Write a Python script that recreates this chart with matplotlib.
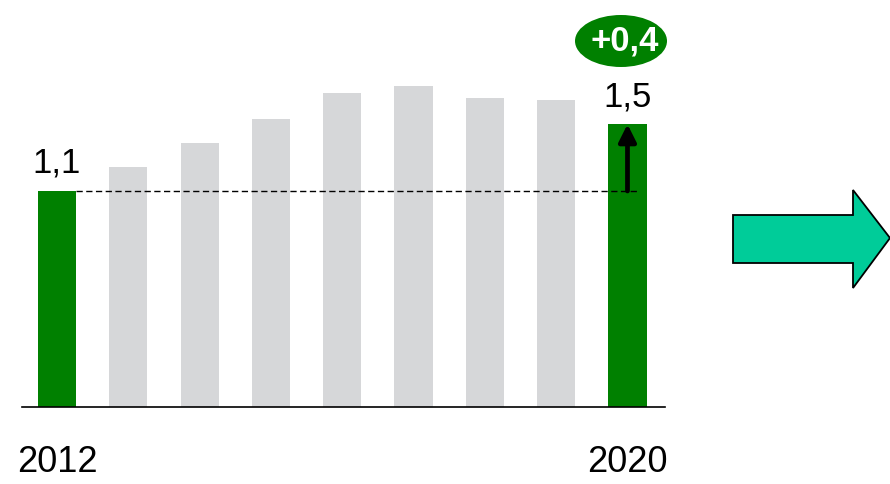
import matplotlib
matplotlib.use("Agg")
import matplotlib.pyplot as plt
from matplotlib.patches import Polygon, Ellipse

plt.rcParams['font.family'] = ['Liberation Sans', 'DejaVu Sans']

# bar heights (2012 .. 2020)
years = [2012, 2013, 2014, 2015, 2016, 2017, 2018, 2019, 2020]
heights = [1.1, 1.22, 1.345, 1.465, 1.598, 1.635, 1.574, 1.563, 1.44]
highlight = [True, False, False, False, False, False, False, False, True]
tick_labels = ['2012', '2020']
start_label = '1,1'
end_label = '1,5'
delta_label = '+0,4'

green = '#008000'
grey = '#d6d7d9'

W, H = 890, 484
fig = plt.figure(figsize=(W / 100, H / 100), dpi=100)
ax = fig.add_axes([22 / W, 77 / H, 643 / W, 407 / H])

xs = list(range(len(years)))
colors = [green if h else grey for h in highlight]
ax.bar(xs, heights, width=0.535, color=colors, zorder=2)

ax.set_xlim(-0.49, 8.526)
ax.set_ylim(0, 2.0727)

for s in ['top', 'left', 'right']:
    ax.spines[s].set_visible(False)
ax.spines['bottom'].set_linewidth(1.2)
ax.set_yticks([])
ax.set_xticks([xs[0], xs[-1]])
ax.set_xticklabels(tick_labels, fontsize=26)
ax.tick_params(axis='x', length=0, pad=27)

# reference line from the first bar
ax.hlines(heights[0], 0.27, 8.13, colors='black', linestyles=(0, (4.5, 2.5)), lw=1.0, zorder=3)

# value labels
ax.annotate(start_label, (xs[0], heights[0]), xytext=(0, 8), textcoords='offset points',
            ha='center', va='bottom', fontsize=25)
ax.annotate(end_label, (xs[-1], heights[-1]), xytext=(0, 8), textcoords='offset points',
            ha='center', va='bottom', fontsize=25)

# change arrow
ax.annotate('', xy=(xs[-1], heights[-1]), xytext=(xs[-1], heights[0]),
            arrowprops=dict(arrowstyle='-|>', lw=3.4, color='black', mutation_scale=26,
                            shrinkA=0, shrinkB=0), zorder=4)

# delta bubble
bubble = Ellipse((621 / W, 1 - 41 / H), 92 / W, 52 / H, transform=fig.transFigure,
                 fc=green, ec='none')
fig.patches.append(bubble)
fig.text(625 / W, 1 - 41 / H, delta_label, ha='center', va='center', fontsize=25,
         fontweight='bold', color='white')

# big arrow on the right
pts = [(733, 215), (853, 215), (853, 190), (890, 238), (853, 288), (853, 263), (733, 263)]
arrow = Polygon([(x / W, 1 - y / H) for x, y in pts], closed=True, transform=fig.transFigure,
                fc='#00cc99', ec='black', lw=1.3)
fig.patches.append(arrow)

fig.savefig('out.png', dpi=100)
